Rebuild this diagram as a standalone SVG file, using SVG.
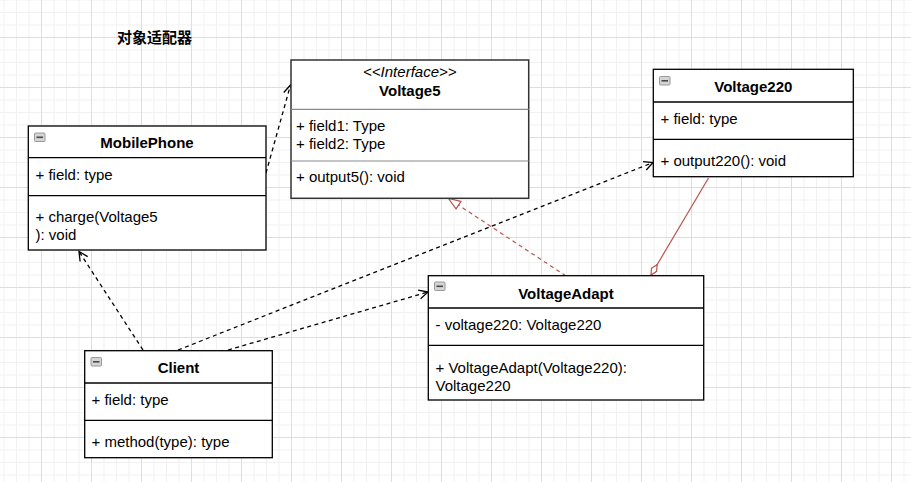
<svg xmlns="http://www.w3.org/2000/svg" width="911" height="482" viewBox="0 0 911 482">
<defs>
<pattern id="grid" patternUnits="userSpaceOnUse" x="41" y="37" width="50" height="50">
<rect x="12.5" y="0" width="1" height="50" fill="#f1f1f1"/>
<rect x="25" y="0" width="1" height="50" fill="#f1f1f1"/>
<rect x="37.5" y="0" width="1" height="50" fill="#f1f1f1"/>
<rect x="0" y="12.5" width="50" height="1" fill="#f1f1f1"/>
<rect x="0" y="25" width="50" height="1" fill="#f1f1f1"/>
<rect x="0" y="37.5" width="50" height="1" fill="#f1f1f1"/>
<rect x="0" y="0" width="1" height="50" fill="#dedede"/>
<rect x="0" y="0" width="50" height="1" fill="#dedede"/>
</pattern>
<marker id="open" markerUnits="userSpaceOnUse" markerWidth="14" markerHeight="12" viewBox="-1 -6 13 12" refX="9" refY="0" orient="auto">
<path d="M0,-4.5 L9,0 L0,4.5" fill="none" stroke="#000" stroke-width="1.3"/>
</marker>
<marker id="tri" markerUnits="userSpaceOnUse" markerWidth="16" markerHeight="12" viewBox="-1 -6 14 12" refX="12" refY="0" orient="auto">
<path d="M0,-4.5 L12,0 L0,4.5 Z" fill="#fff" stroke="#b85450" stroke-width="1.2"/>
</marker>
<marker id="dia" markerUnits="userSpaceOnUse" markerWidth="16" markerHeight="10" viewBox="-1 -5 14 10" refX="12" refY="0" orient="auto">
<path d="M0,0 L6,-3 L12,0 L6,3 Z" fill="#fff" stroke="#b85450" stroke-width="1.2"/>
</marker>
</defs>
<style>
text{font-family:"Liberation Sans",Arial,sans-serif;font-size:15px;fill:#000}
.t{font-weight:bold;text-anchor:middle}
.box{fill:#fff;stroke:#000;stroke-width:1.3}
.sep{stroke:#000;stroke-width:1.3}
.sepg{stroke:#8a8a8a;stroke-width:1.2}
.ico{fill:#d4d4d4;stroke:#9a9a9a;stroke-width:1}
.icol{stroke:#4a4a4a;stroke-width:1.6}
.dash{fill:none;stroke:#000;stroke-width:1.3;stroke-dasharray:4 3.5}
.rdash{fill:none;stroke:#b85450;stroke-width:1.2;stroke-dasharray:4 3.5}
.rsol{fill:none;stroke:#b85450;stroke-width:1.2}
</style>
<rect x="0" y="0" width="911" height="482" fill="#fff"/>
<rect x="0" y="0" width="911" height="482" fill="url(#grid)"/>

<g id="title">
<text x="117" y="43" style="font-family:'Noto Sans CJK SC','Liberation Sans',sans-serif;font-weight:bold;font-size:15px">对象适配器</text>
</g>

<g id="connectors">
<line class="dash" x1="266" y1="173" x2="290.5" y2="85" marker-end="url(#open)"/>
<line class="dash" x1="143" y1="350" x2="79" y2="251.5" marker-end="url(#open)"/>
<line class="dash" x1="178" y1="350" x2="653" y2="162.5" marker-end="url(#open)"/>
<line class="dash" x1="228" y1="350" x2="428" y2="292" marker-end="url(#open)"/>
<line class="rdash" x1="566" y1="276" x2="448.5" y2="198.5" marker-end="url(#tri)"/>
<line class="rsol" x1="708.5" y1="178" x2="651" y2="275" marker-end="url(#dia)"/>
</g>

<g id="Voltage5">
<rect class="box" x="291" y="60" width="237.7" height="138.3" style="stroke:#333;stroke-width:1.5"/>
<line class="sepg" x1="291" y1="109.3" x2="528.7" y2="109.3"/>
<line class="sepg" x1="291" y1="161" x2="528.7" y2="161"/>
<text x="409.8" y="77" style="font-style:italic;text-anchor:middle">&lt;&lt;Interface&gt;&gt;</text>
<text class="t" x="409.8" y="96">Voltage5</text>
<text x="296" y="131">+ field1: Type</text>
<text x="296" y="148.7">+ field2: Type</text>
<text x="296" y="182.3">+ output5(): void</text>
</g>

<g id="MobilePhone">
<rect class="box" x="28.3" y="126" width="237.7" height="124"/>
<line class="sep" x1="28.3" y1="157.7" x2="266" y2="157.7"/>
<line class="sep" x1="28.3" y1="195.7" x2="266" y2="195.7"/>
<rect class="ico" x="34.5" y="133" width="10.5" height="8.5" rx="1"/>
<line class="icol" x1="36.5" y1="137.3" x2="43" y2="137.3"/>
<text class="t" x="147" y="148">MobilePhone</text>
<text x="35.5" y="180">+ field: type</text>
<text x="35.5" y="222.3">+ charge(Voltage5</text>
<text x="35.5" y="240.3">): void</text>
</g>

<g id="Voltage220">
<rect class="box" x="653.3" y="69.3" width="200" height="107.4"/>
<line class="sep" x1="653.3" y1="102" x2="853.3" y2="102"/>
<line class="sep" x1="653.3" y1="139.3" x2="853.3" y2="139.3"/>
<rect class="ico" x="659.5" y="76.5" width="10.5" height="8.5" rx="1"/>
<line class="icol" x1="661.5" y1="80.8" x2="668" y2="80.8"/>
<text class="t" x="753.3" y="92">Voltage220</text>
<text x="660.5" y="124">+ field: type</text>
<text x="660.5" y="166">+ output220(): void</text>
</g>

<g id="VoltageAdapt">
<rect class="box" x="428.3" y="275.7" width="275.4" height="124.3"/>
<line class="sep" x1="428.3" y1="308" x2="703.7" y2="308"/>
<line class="sep" x1="428.3" y1="345.3" x2="703.7" y2="345.3"/>
<rect class="ico" x="434.5" y="282" width="10.5" height="8.5" rx="1"/>
<line class="icol" x1="436.5" y1="286.3" x2="443" y2="286.3"/>
<text class="t" x="566" y="298.5">VoltageAdapt</text>
<text x="435.5" y="329.5">- voltage220: Voltage220</text>
<text x="435.5" y="372.7">+ VoltageAdapt(Voltage220):</text>
<text x="435.5" y="390.5">Voltage220</text>
</g>

<g id="Client">
<rect class="box" x="84.7" y="350.7" width="187.6" height="107"/>
<line class="sep" x1="84.7" y1="383" x2="272.3" y2="383"/>
<line class="sep" x1="84.7" y1="420.3" x2="272.3" y2="420.3"/>
<rect class="ico" x="91" y="357.5" width="10.5" height="8.5" rx="1"/>
<line class="icol" x1="93" y1="361.8" x2="99.5" y2="361.8"/>
<text class="t" x="178.5" y="372.5">Client</text>
<text x="91.5" y="404.5">+ field: type</text>
<text x="91.5" y="446.7">+ method(type): type</text>
</g>
</svg>
